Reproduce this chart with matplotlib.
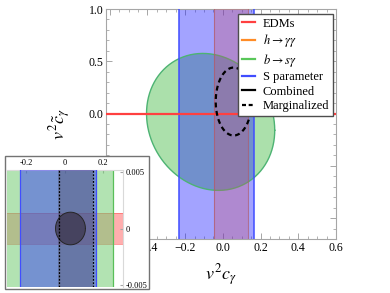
import numpy as np
import matplotlib
matplotlib.use("Agg")
import matplotlib.pyplot as plt
from matplotlib.patches import Rectangle
from matplotlib.lines import Line2D
from matplotlib.ticker import MultipleLocator

plt.rcParams['font.family'] = ['Liberation Serif', 'DejaVu Serif']
plt.rcParams['mathtext.fontset'] = 'stix'

# ---------------- data ----------------
# main panel
xlim_main = [-0.62, 0.6]
ylim_main = [-1.2, 1.0]
edm_line_y = 0.0                      # EDM constraint (very thin band)
s_param_band = [-0.235, 0.165]        # S parameter band in v^2 c_gamma
hgg_band = [-0.047, 0.135]            # h -> gamma gamma band
bsg_center = [-0.065, -0.08]          # b -> s gamma ellipse
bsg_semi = [0.34, 0.65]
bsg_shear = -0.08
marg_center = [0.057, 0.115]          # marginalized ellipse
marg_semi = [0.095, 0.325]

# inset panel
xlim_inset = [-0.3, 0.305]
ylim_inset = [-0.0052, 0.0052]
inset_bsg_band = [-0.32, 0.255]
inset_s_band = [-0.23, 0.165]
inset_hgg_band = [-0.036, 0.146]
inset_edm_band = [-0.0014, 0.0014]
inset_marg_lines = [-0.028, 0.15]
comb_center = [0.031, 0.0]
comb_semi = [0.078, 0.00145]

xticks_main = [-0.6, -0.4, -0.2, 0.0, 0.2, 0.4, 0.6]
yticks_main = [-1.0, -0.5, 0.0, 0.5, 1.0]
ytick_labels_main = ['', '', '0.0', '0.5', '1.0']   # lower ones hidden by inset
xticks_inset = [-0.2, 0, 0.2]
xticklabels_inset = ['-0.2', '0', '0.2']
yticks_inset = [-0.005, 0, 0.005]
yticklabels_inset = ['-0.005', '0', '0.005']

legend_labels = ['EDMs', r'$h\to\gamma\gamma$', r'$b\to s\gamma$',
                 'S parameter', 'Combined', 'Marginalized']

# ---------------- styles ----------------
c_red = (1.0, 0.25, 0.25)
c_orange = (1.0, 0.55, 0.15)
c_green = (0.35, 0.78, 0.35)
c_blue = (0.25, 0.3, 1.0)
spine_c = (0.65, 0.65, 0.65)
blue_fill = (0.1, 0.1, 1.0)
green_fill = (0.45, 0.8, 0.45)

fig = plt.figure(figsize=(3.9, 2.93), dpi=100)
ax = fig.add_axes([106/390, 1-239/293, 230/390, 230/293])

t = np.linspace(0, 2*np.pi, 400)

# b -> s gamma ellipse (fill under the blue band)
ex = bsg_center[0] + bsg_semi[0]*np.cos(t)
ey = bsg_center[1] + bsg_semi[1]*np.sin(t) + bsg_shear*np.cos(t)
ax.fill(ex, ey, color=green_fill, alpha=0.6, lw=0, zorder=1)

# S parameter band
ax.axvspan(*s_param_band, color=blue_fill, alpha=0.4, lw=0, zorder=2)
for xv in s_param_band:
    ax.axvline(xv, color=c_blue, lw=1.1, zorder=5)

ax.plot(ex, ey, color=(0.3, 0.7, 0.45), lw=1.0, zorder=3)

# h -> gamma gamma band
ax.axvspan(*hgg_band, color=(0.8, 0.3, 0.4), alpha=0.3, lw=0, zorder=3)
for xv in hgg_band:
    ax.axvline(xv, color=(0.7, 0.35, 0.4), lw=0.8, alpha=0.7, zorder=4)

# EDM line
ax.axhline(edm_line_y, color=c_red, lw=1.6, zorder=6)

# marginalized ellipse
mx = marg_center[0] + marg_semi[0]*np.cos(t)
my = marg_center[1] + marg_semi[1]*np.sin(t)
ax.plot(mx, my, color='black', lw=1.6, ls=(0, (2.2, 1.6)), zorder=7)

ax.set_xlim(*xlim_main)
ax.set_ylim(*ylim_main)
ax.set_xticks(xticks_main)
ax.set_xticklabels([f'{v:.1f}'.replace('-', '\u2212') for v in xticks_main])
ax.set_yticks(yticks_main)
ax.set_yticklabels(ytick_labels_main)
ax.xaxis.set_minor_locator(MultipleLocator(0.05))
ax.yaxis.set_minor_locator(MultipleLocator(0.1))
ax.tick_params(which='both', direction='in', top=True, right=True,
               color=spine_c, labelsize=8.5, pad=2)
ax.tick_params(which='major', length=4, width=0.7)
ax.tick_params(which='minor', length=2, width=0.6)
for s in ax.spines.values():
    s.set_color(spine_c)
    s.set_linewidth(0.8)

ax.set_xlabel(r'$v^2 c_\gamma$', fontsize=13, labelpad=6)
ax.set_ylabel(r'$v^2 \tilde{c}_\gamma$', fontsize=13, labelpad=11)

handles = [
    Line2D([], [], color=c_red, lw=1.6),
    Line2D([], [], color=c_orange, lw=1.6),
    Line2D([], [], color=c_green, lw=1.6),
    Line2D([], [], color=c_blue, lw=1.6),
    Line2D([], [], color='black', lw=1.6),
    Line2D([], [], color='black', lw=1.6, ls=(0, (1.8, 1.2))),
]
leg = ax.legend(handles, legend_labels, loc='upper right',
                bbox_to_anchor=(0.987, 0.978), borderaxespad=0,
                fontsize=9, handlelength=1.1, handletextpad=0.6,
                labelspacing=0.2, borderpad=0.3, fancybox=False,
                framealpha=1, edgecolor=(0.3, 0.3, 0.3))
leg.get_frame().set_linewidth(1.0)
leg.set_zorder(10)

# ---------------- inset ----------------
frame = Rectangle((5/390, 1-289/293), 144/390, 133/293, transform=fig.transFigure,
                  facecolor='white', edgecolor=(0.45, 0.45, 0.45), lw=1.0, zorder=20)
fig.patches.append(frame)

ax2 = fig.add_axes([7/390, 1-287/293, 116/390, 117/293], zorder=21)
ax2.axhspan(*inset_edm_band, color=(1.0, 0.3, 0.3), alpha=0.45, lw=0, zorder=1)
for yv in inset_edm_band:
    ax2.axhline(yv, color=(1.0, 0.35, 0.35), lw=0.6, alpha=0.7, zorder=1)
ax2.axvspan(*inset_bsg_band, color=green_fill, alpha=0.55, lw=0, zorder=2)
ax2.axvline(inset_bsg_band[1], color=(0.35, 0.75, 0.35), lw=0.9, zorder=2)
ax2.axvspan(*inset_s_band, color=blue_fill, alpha=0.4, lw=0, zorder=3)
for xv in inset_s_band:
    ax2.axvline(xv, color=c_blue, lw=0.9, zorder=3)
ax2.axvspan(*inset_hgg_band, color=(0.3, 0.28, 0.35), alpha=0.35, lw=0, zorder=4)
for xv in inset_marg_lines:
    ax2.axvline(xv, color='black', lw=0.9, ls=(0, (1.5, 1.2)), zorder=6)
cx = comb_center[0] + comb_semi[0]*np.cos(t)
cy = comb_center[1] + comb_semi[1]*np.sin(t)
ax2.fill(cx, cy, color=(0.22, 0.2, 0.28), alpha=0.7, lw=0, zorder=5)
ax2.plot(cx, cy, color=(0.15, 0.15, 0.15), lw=0.7, zorder=5)

ax2.set_xlim(*xlim_inset)
ax2.set_ylim(*ylim_inset)
ax2.set_xticks(xticks_inset)
ax2.set_xticklabels(xticklabels_inset)
ax2.set_yticks(yticks_inset)
ax2.set_yticklabels(yticklabels_inset)
ax2.xaxis.tick_top()
ax2.yaxis.tick_right()
ax2.tick_params(direction='in', labelsize=6, pad=2, length=2.5, color=spine_c)
for side, s in ax2.spines.items():
    s.set_color((0.85, 0.85, 0.85))
    s.set_linewidth(0.8)
ax2.spines['left'].set_visible(False)
ax2.spines['bottom'].set_visible(False)

fig.savefig('out.png', dpi=100)
